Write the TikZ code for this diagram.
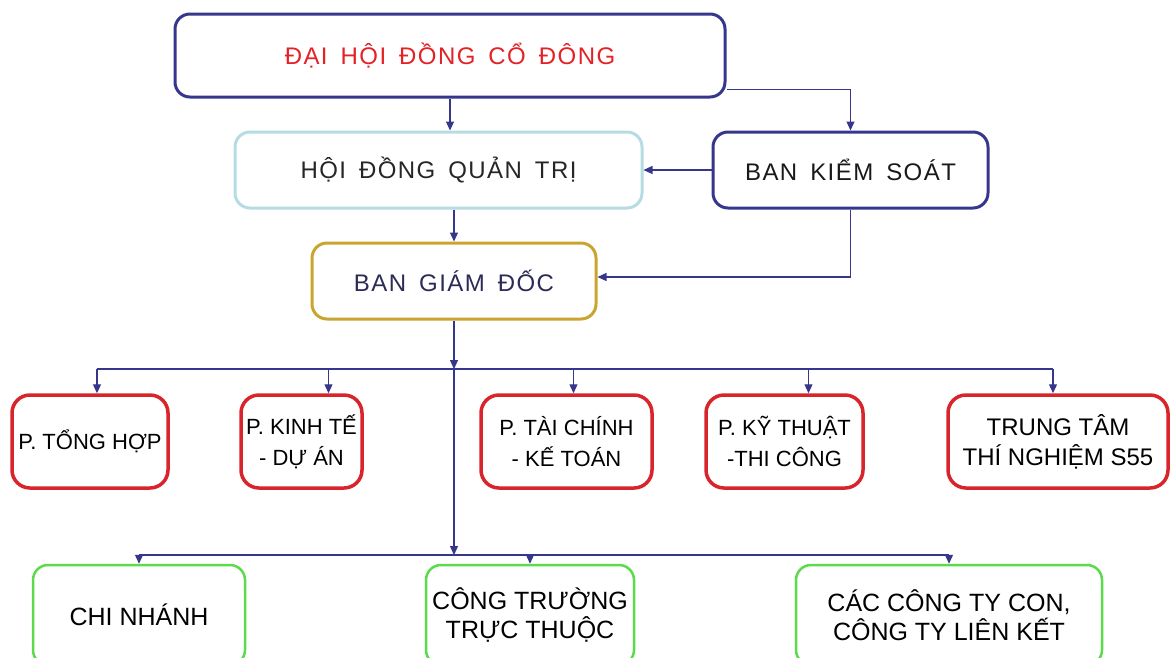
\documentclass[tikz,border=0pt]{standalone}
\usepackage{fontspec}
\setmainfont{Liberation Sans}
\newfontfamily\widefont[LetterSpace=6,WordSpace=1.6]{Liberation Sans}
\usetikzlibrary{arrows.meta}

\definecolor{navy}{HTML}{36368C}
\definecolor{redtext}{HTML}{E32126}
\definecolor{lightblue}{HTML}{B4DCE2}
\definecolor{gold}{HTML}{C9A530}
\definecolor{redbox}{HTML}{D8242B}
\definecolor{greenbox}{HTML}{5ADC4A}
\definecolor{darktext}{HTML}{2B2B55}

\begin{document}
\begin{tikzpicture}[x=1pt,y=-1pt,
    box/.style={draw,rounded corners=15pt,line width=3pt,align=center,inner sep=0pt},
    wide/.style={font=\widefont\fontsize{24}{28}\selectfont},
    dept/.style={box,draw=redbox,line width=3.5pt,rounded corners=18pt,minimum height=93pt,
                 font=\fontsize{22}{31}\selectfont},
    unit/.style={box,draw=greenbox,line width=2.5pt,minimum height=100pt,
                 font=\fontsize{25}{29}\selectfont},
    arr/.style={draw=navy,line width=1.2pt,-{Triangle[length=9pt,width=8pt]}},
    bus/.style={draw=navy,line width=1.2pt}]
    \useasboundingbox (0,0) rectangle (1170,657);

    %top level
    \node[box,wide,draw=navy,text=redtext,minimum width=550pt,minimum height=83pt]
        (dhdcd) at (450,55.5) {ĐẠI HỘI ĐỒNG CỔ ĐÔNG};
    \node[box,wide,draw=lightblue,text=black!85,minimum width=407pt,minimum height=76pt]
        (hdqt) at (438.5,170) {HỘI ĐỒNG QUẢN TRỊ};
    \node[box,wide,draw=navy,text=black!90,minimum width=275pt,minimum height=76pt]
        (bks) at (850.5,170) {BAN KIỂM SOÁT};
    \node[box,wide,draw=gold,text=darktext,minimum width=284pt,minimum height=76pt]
        (bgd) at (454,281) {BAN GIÁM ĐỐC};

    \draw[arr] (dhdcd.south) -- (dhdcd.south |- hdqt.north);
    \draw[arr] ([yshift=-34pt]dhdcd.east) -| (bks.north);
    \draw[arr] (bks.west) -- (hdqt.east);
    \draw[arr] (bgd.north |- hdqt.south) -- (bgd.north);
    \draw[arr] (bks.south) |- ([yshift=4pt]bgd.east);

    %departments
    \node[dept,minimum width=156pt] (p1) at (90,441.5) {P. TỔNG HỢP};
    \node[dept,minimum width=121pt] (p2) at (301.5,441.5) {P. KINH TẾ\\ - DỰ ÁN};
    \node[dept,minimum width=171pt] (p3) at (566.5,441.5) {P. TÀI CHÍNH\\ - KẾ TOÁN};
    \node[dept,minimum width=157pt] (p4) at (784.5,441.5) {P. KỸ THUẬT\\ -THI CÔNG};
    \node[dept,minimum width=220pt,font=\fontsize{24}{30}\selectfont] (p5) at (1058,441.5)
        {TRUNG TÂM\\ THÍ NGHIỆM S55};

    \coordinate (busA) at (bgd.south |- 0,369);
    \draw[arr] (bgd.south) -- (busA);
    \draw[bus] ([xshift=7pt]p1.north |- busA) -- ([xshift=-5pt]p5.north |- busA);
    \foreach \n/\d in {p1/7,p2/27,p3/7,p4/24,p5/-5}
        \draw[arr] ([xshift=\d pt]\n.north |- busA) -- ([xshift=\d pt]\n.north);

    %units
    \node[unit,minimum width=212pt] (g1) at (139,615) {CHI NHÁNH};
    \node[unit,minimum width=208pt] (g2) at (530,615) {CÔNG TRƯỜNG\\ TRỰC THUỘC};
    \node[unit,minimum width=306pt] (g3) at (949,615) {CÁC CÔNG TY CON,\\ CÔNG TY LIÊN KẾT};

    \coordinate (busB) at (bgd.south |- 0,555);
    \draw[arr] (busA) -- (busB);
    \draw[bus] (g1.north |- busB) -- (g3.north |- busB);
    \foreach \n in {g1,g2,g3}
        \draw[arr] (\n.north |- busB) -- (\n.north);

\end{tikzpicture}
\end{document}
